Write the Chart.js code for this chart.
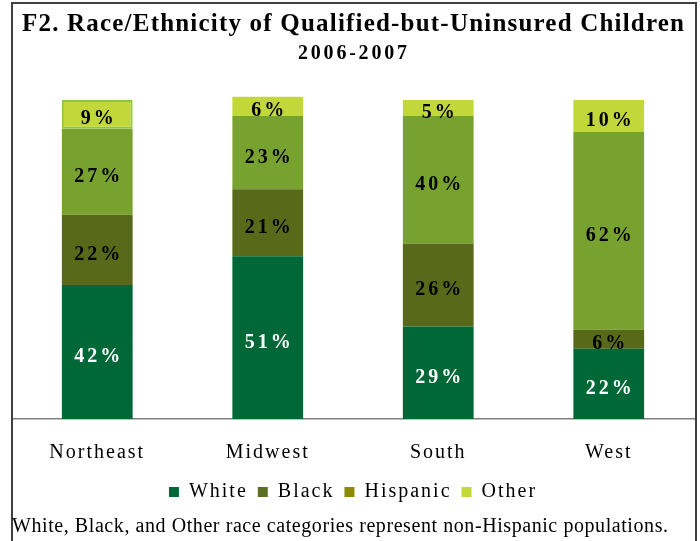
<!DOCTYPE html>
<html>
<head>
<meta charset="utf-8">
<script src="https://cdn.jsdelivr.net/npm/chart.js@4"></script>
<style>
  html, body { margin: 0; padding: 0; background: #fff; }
  #wrap { width: 700px; height: 541px; position: relative; }
</style>
</head>
<body>
<div id="wrap"><canvas id="c" width="700" height="541"></canvas></div>
<script>
const categories = ['Northeast', 'Midwest', 'South', 'West'];
const seriesNames = ['White', 'Black', 'Hispanic', 'Other'];
const whiteValues = [42, 51, 29, 22];
const blackValues = [22, 21, 26, 6];
const hispanicValues = [27, 23, 40, 62];
const otherValues = [9, 6, 5, 10];
const titleText = 'F2. Race/Ethnicity of Qualified-but-Uninsured Children';
const subtitleText = '2006-2007';
const footnote = 'White, Black, and Other race categories represent non-Hispanic populations.';

const barColors = ['#006837', '#59691a', '#78a22f', '#c1d73a'];
const legendColors = ['#006837', '#5a7020', '#8c8c00', '#c1d73a'];
const SERIF = '"Liberation Serif", "Times New Roman", serif';
const seriesValues = [whiteValues, blackValues, hispanicValues, otherValues];

const datasets = seriesNames.map((name, i) => ({
  label: name,
  data: seriesValues[i],
  backgroundColor: barColors[i],
  borderColor: i === 3 ? '#8dc63f' : barColors[i],
  borderWidth: i === 3 ? [2, 0, 0, 0] : 0,
  borderSkipped: false,
  clip: false,
  barPercentage: 0.83,
  categoryPercentage: 0.5
}));

// draw text spread to a target width (letter spacing as in the original)
function spacedText(ctx, text, font, cx, baseline, targetWidth, align) {
  ctx.save();
  ctx.font = font;
  ctx.letterSpacing = '0px';
  const w0 = ctx.measureText(text).width;
  const sp = Math.max(0, (targetWidth - w0) / Math.max(1, text.length - 1));
  ctx.letterSpacing = sp + 'px';
  ctx.textAlign = 'left';
  ctx.textBaseline = 'alphabetic';
  const x = align === 'left' ? cx : cx - targetWidth / 2;
  ctx.fillText(text, x, baseline);
  ctx.restore();
}

const spacingPlugin = {
  id: 'spacing',
  beforeUpdate(chart) { chart.ctx.letterSpacing = '2px'; },
  beforeDraw(chart) { chart.ctx.letterSpacing = '2px'; }
};

const labelPlugin = {
  id: 'segLabels',
  afterDatasetsDraw(chart) {
    const ctx = chart.ctx;
    ctx.save();
    ctx.font = 'bold 20px ' + SERIF;
    ctx.letterSpacing = '3px';
    ctx.textAlign = 'center';
    ctx.textBaseline = 'alphabetic';
    chart.data.datasets.forEach((ds, di) => {
      const meta = chart.getDatasetMeta(di);
      meta.data.forEach((bar, j) => {
        const v = ds.data[j];
        const y = (bar.y + bar.base) / 2;
        ctx.fillStyle = di === 0 ? '#ffffff' : '#000000';
        ctx.fillText(v + '%', bar.x + 1.5, y + 10);
      });
    });
    ctx.restore();
  }
};

const framePlugin = {
  id: 'frame',
  afterDraw(chart) {
    const ctx = chart.ctx;
    ctx.save();
    ctx.strokeStyle = '#404040';
    ctx.lineWidth = 2;
    ctx.strokeRect(12, 3, 684, 560);
    ctx.fillStyle = '#000';
    spacedText(ctx, titleText, 'bold 25px ' + SERIF, 353, 31, 662);
    spacedText(ctx, subtitleText, 'bold 20px ' + SERIF, 352.5, 59, 109);
    spacedText(ctx, footnote, '20px ' + SERIF, 12, 532, 656, 'left');
    ctx.restore();
  }
};

new Chart(document.getElementById('c'), {
  type: 'bar',
  data: { labels: categories, datasets },
  options: {
    responsive: false,
    animation: false,
    devicePixelRatio: 1,
    layout: { padding: { left: 12, right: 6, top: 100, bottom: 29 } },
    scales: {
      x: {
        stacked: true,
        grid: { display: false, drawTicks: false },
        border: { display: true, color: '#808080', width: 1.5 },
        ticks: { color: '#000', font: { family: SERIF, size: 20 }, padding: 22 },
        afterFit(scale) { scale.height = 53; }
      },
      y: {
        stacked: true,
        display: false,
        min: 0,
        max: 100
      }
    },
    plugins: {
      title: { display: false },
      legend: {
        position: 'bottom',
        labels: {
          color: '#000',
          font: { family: SERIF, size: 20 },
          boxWidth: 10,
          boxHeight: 10,
          padding: 10,
          generateLabels(chart) {
            return chart.data.datasets.map((ds, i) => ({
              text: ds.label,
              fillStyle: legendColors[i],
              strokeStyle: legendColors[i],
              lineWidth: 0,
              hidden: false,
              datasetIndex: i,
              fontColor: '#000'
            }));
          }
        }
      },
      tooltip: { enabled: false }
    }
  },
  plugins: [spacingPlugin, labelPlugin, framePlugin]
});
</script>
</body>
</html>
